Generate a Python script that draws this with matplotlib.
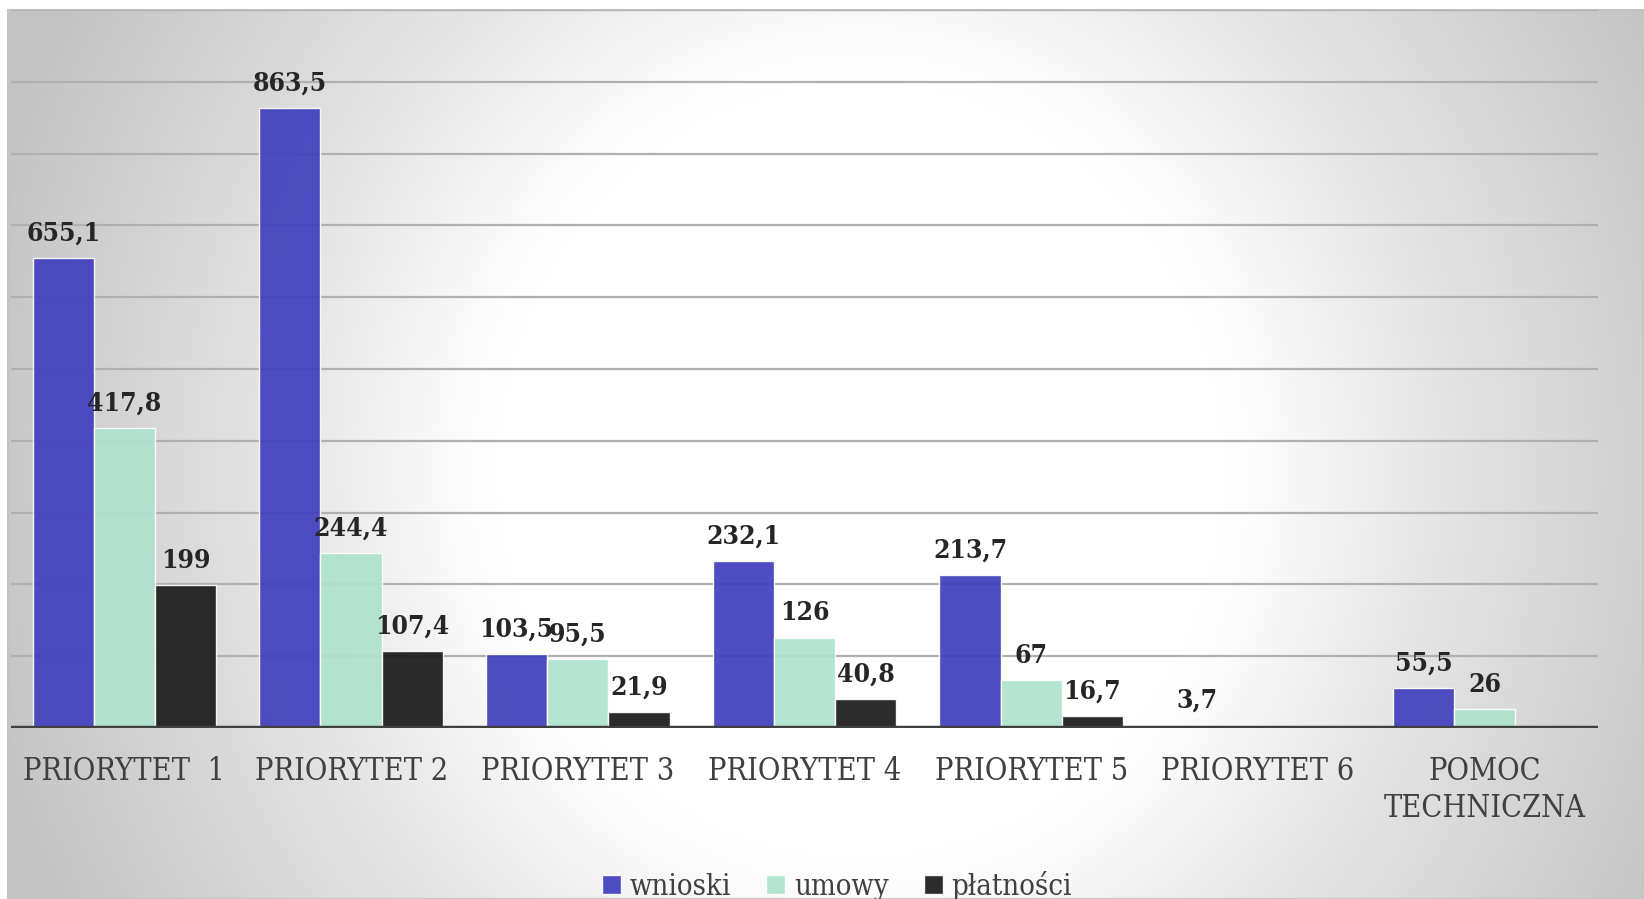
import numpy as np
import matplotlib
matplotlib.use("Agg")
import matplotlib.pyplot as plt
from matplotlib.patches import Patch, Rectangle

categories = ["PRIORYTET  1", "PRIORYTET 2", "PRIORYTET 3", "PRIORYTET 4",
              "PRIORYTET 5", "PRIORYTET 6", "POMOC\nTECHNICZNA"]
wnioski = [655.1, 863.5, 103.5, 232.1, 213.7, 3.7, 55.5]
umowy = [417.8, 244.4, 95.5, 126.0, 67.0, None, 26.0]
platnosci = [199.0, 107.4, 21.9, 40.8, 16.7, None, None]
series_names = ["wnioski", "umowy", "płatności"]
series_colors = ["#3f3fbd", "#aee3cd", "#1a1a1a"]
y_max = 1000
grid_ticks = [100, 200, 300, 400, 500, 600, 700, 800, 900, 1000]

W, H = 1644, 899
fig = plt.figure(figsize=(W / 100, H / 100), dpi=100)
fig.patch.set_facecolor("white")

FONT = "DejaVu Serif"
STRETCH = "condensed"

# background radial gradient (pixel space)
bg = fig.add_axes([8 / W, 0, 1 - 8 / W, (H - 10) / H], zorder=-5)
bg.set_axis_off()
px = np.linspace(8, W, 420)
py = np.linspace(10, H, 240)
XX, YY = np.meshgrid(px, py)
r = np.sqrt(((XX - 860) / 820.0) ** 2 + ((YY - 470) / 880.0) ** 2)
d = np.clip(r - 0.45, 0, None)
eps = 0.04
val = 1.0 - 0.34 * (np.sqrt(d ** 2 + eps ** 2) - eps) ** 0.8
val = np.clip(val, 0.765, 1.0)
bg.imshow(np.dstack([val, val, val]), extent=[0, 1, 0, 1], origin="upper",
          aspect="auto", interpolation="bicubic")
bg.set_xlim(0, 1)
bg.set_ylim(0, 1)
bg.add_patch(Rectangle((0, 0), 1, 1, transform=bg.transAxes, fill=False,
                       edgecolor="#c4c4c4", lw=1.5, clip_on=False))

ax = fig.add_axes([11 / W, (H - 728) / H, (1598 - 11) / W, (728 - 10) / H])
ax.set_facecolor("none")
x = np.arange(len(categories))
bw = 0.27
for i, (vals, col) in enumerate(zip([wnioski, umowy, platnosci], series_colors)):
    xs = [xi + (i - 1) * bw for xi, v in zip(x, vals) if v is not None]
    vs = [v for v in vals if v is not None]
    ax.bar(xs, vs, width=bw, color=col, alpha=0.92,
           edgecolor=(1, 1, 1, 0.45), linewidth=1.0, zorder=3)
    for xi, v in zip(xs, vs):
        lab = ("%g" % v).replace(".", ",")
        ax.annotate(lab, (xi, v), xytext=(0, 12.5), textcoords="offset points",
                    ha="center", va="baseline", fontsize=19, fontweight="bold",
                    color="#262626", family=FONT, fontstretch=STRETCH, zorder=5)

ax.set_xlim(-0.5, len(categories) - 0.5)
ax.set_ylim(0, y_max)
for g in grid_ticks:
    ax.axhline(g, color="#b0b0b0", lw=1.6, zorder=1)
ax.axhline(0, color="#404040", lw=3.2, zorder=4)
for s in ax.spines.values():
    s.set_visible(False)
ax.set_yticks([])
ax.set_xticks(x)
ax.set_xticklabels(categories, fontsize=22, color="#404040", family=FONT,
                   fontstretch=STRETCH, linespacing=1.25)
ax.tick_params(axis="x", length=0, pad=20)

handles = [Patch(facecolor=c, edgecolor=(1, 1, 1, 0.5), alpha=0.92) for c in series_colors]
leg = fig.legend(handles, series_names, loc="center", bbox_to_anchor=(837 / W, 13 / H),
                 ncol=3, frameon=False, handlelength=0.65, handleheight=0.65,
                 handletextpad=0.3, columnspacing=1.2,
                 prop={"family": FONT, "size": 21, "stretch": STRETCH})
for t in leg.get_texts():
    t.set_color("#404040")

fig.savefig("out.png", dpi=100, facecolor=fig.get_facecolor())
